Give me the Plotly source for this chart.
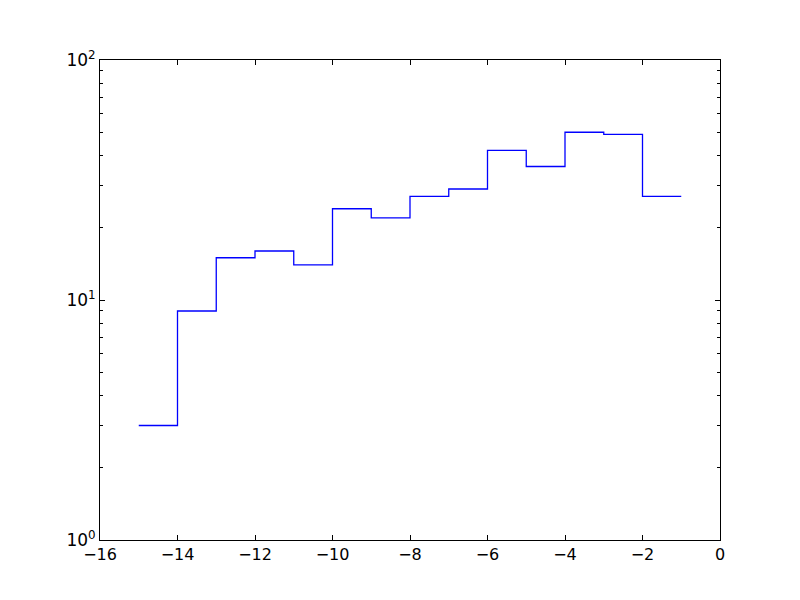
import plotly.graph_objects as go

x_vals = [-15, -14, -13, -12, -11, -10, -9, -8, -7, -6, -5, -4, -3, -2, -1]
y_vals = [3, 9, 15, 16, 14, 24, 22, 27, 29, 42, 36, 50, 49, 27, 27]

x_ticks = [-16, -14, -12, -10, -8, -6, -4, -2, 0]
x_ticktext = ["\u221216", "\u221214", "\u221212", "\u221210", "\u22128", "\u22126", "\u22124", "\u22122", "0"]
y_ticks = [1, 10, 100]
y_ticktext = ["10<sup>0</sup>", "10<sup>1</sup>", "10<sup>2</sup>"]
y_minor = [2, 3, 4, 5, 6, 7, 8, 9, 20, 30, 40, 50, 60, 70, 80, 90]

fig = go.Figure()
fig.add_trace(go.Scatter(
    x=x_vals, y=y_vals, mode="lines", line=dict(color="#0000ff", width=1.3, shape="hv"),
    showlegend=False, hoverinfo="skip"))

fig.update_layout(
    width=800, height=600,
    margin=dict(l=92, r=88, t=52, b=68, autoexpand=False),
    paper_bgcolor="white", plot_bgcolor="white",
    font=dict(family="DejaVu Sans", size=16, color="black"),
)
fig.update_xaxes(
    range=[-16, 0], tickvals=x_ticks, ticktext=x_ticktext,
    ticks="inside", ticklen=5, tickcolor="black", tickwidth=1,
    showline=True, linecolor="black", linewidth=1, mirror="ticks",
    showgrid=False, zeroline=False, tickfont=dict(size=16),
)
fig.update_yaxes(
    type="log", range=[0, 2], tickvals=y_ticks, ticktext=y_ticktext,
    ticks="inside", ticklen=5, tickcolor="black", tickwidth=1,
    showline=True, linecolor="black", linewidth=1, mirror="ticks",
    showgrid=False, zeroline=False, tickfont=dict(size=17),
    minor=dict(tickvals=y_minor, ticks="inside", ticklen=3, tickcolor="black", showgrid=False),
)
fig.write_html("out.html")
